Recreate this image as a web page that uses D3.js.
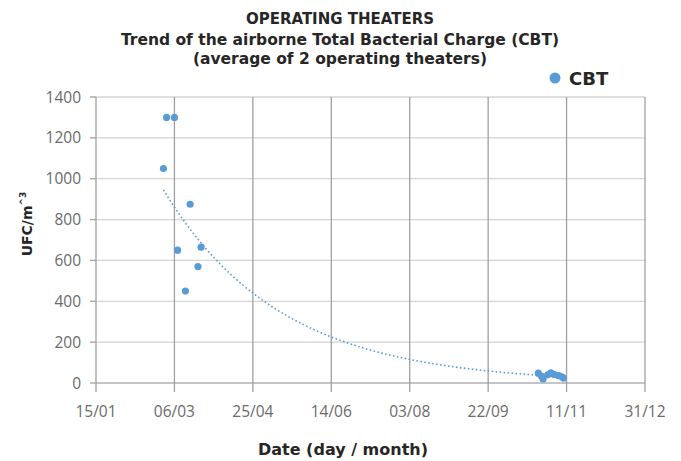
<!DOCTYPE html>
<html>
<head>
<meta charset="utf-8">
<script src="https://cdn.jsdelivr.net/npm/d3@7"></script>
<style>
  html, body { margin: 0; padding: 0; background: #fff; }
  svg { display: block; font-family: "Open Sans", "Lato", sans-serif; }
  .bold { font-family: "DejaVu Sans", "Open Sans", sans-serif; font-weight: bold; }
</style>
</head>
<body>
<svg id="chart" width="681" height="461"></svg>
<script>
// ---- data ----
const sampleDates = [
  "2021-02-27", "2021-03-01", "2021-03-06", "2021-03-08", "2021-03-13",
  "2021-03-16", "2021-03-21", "2021-03-23",
  "2021-10-24", "2021-10-26", "2021-10-27", "2021-10-30", "2021-11-01",
  "2021-11-03", "2021-11-06", "2021-11-08", "2021-11-09"
];
const cbtValues = [
  1050, 1300, 1300, 650, 450,
  875, 570, 665,
  48, 34, 20, 40, 50,
  42, 36, 30, 24
];
const xTickDates = ["2021-01-15", "2021-03-06", "2021-04-25", "2021-06-14", "2021-08-03", "2021-09-22", "2021-11-11", "2021-12-31"];
const xTickLabels = ["15/01", "06/03", "25/04", "14/06", "03/08", "22/09", "11/11", "31/12"];
const yTicks = [0, 200, 400, 600, 800, 1000, 1200, 1400];
const titleLines = ["OPERATING THEATERS", "Trend of the airborne Total Bacterial Charge (CBT)", "(average of 2 operating theaters)"];
const seriesName = "CBT";

(function () {
const parse = d3.utcParse("%Y-%m-%d");
const points = sampleDates.map((d, i) => ({ date: parse(d), value: cbtValues[i] }));
const tickDates = xTickDates.map(parse);

const svg = d3.select("#chart");
const pLeft = 96, pRight = 645, pTop = 97, pBottom = 383;
const blue = "#5B9BD5";

const x = d3.scaleUtc().domain([tickDates[0], tickDates[tickDates.length - 1]]).range([pLeft, pRight]);
const y = d3.scaleLinear().domain([0, 1400]).range([pBottom, pTop]);

// horizontal gridlines
svg.append("g").selectAll("line").data(yTicks).join("line")
  .attr("x1", pLeft).attr("x2", pRight)
  .attr("y1", d => y(d)).attr("y2", d => y(d))
  .attr("stroke", d => d === 0 ? "#c4c4c4" : "#d4d4d4")
  .attr("stroke-width", d => d === 0 ? 2 : 1.3);

// vertical gridlines (with ticks below the axis)
svg.append("g").selectAll("line").data(tickDates).join("line")
  .attr("x1", d => x(d)).attr("x2", d => x(d))
  .attr("y1", pTop).attr("y2", pBottom + 9)
  .attr("stroke", "#a0a0a0").attr("stroke-width", 1.3);

// y ticks
svg.append("g").selectAll("line").data(yTicks).join("line")
  .attr("x1", pLeft - 6).attr("x2", pLeft)
  .attr("y1", d => y(d)).attr("y2", d => y(d))
  .attr("stroke", "#a0a0a0").attr("stroke-width", 1.3);

// y tick labels
svg.append("g").selectAll("text").data(yTicks).join("text")
  .attr("x", 81).attr("y", d => y(d) + 5.5)
  .attr("text-anchor", "end")
  .attr("fill", "#6b6b6b").attr("font-size", 15.5)
  .text(d => d);

// x tick labels
svg.append("g").selectAll("text").data(tickDates).join("text")
  .attr("x", d => x(d)).attr("y", 417)
  .attr("text-anchor", "middle")
  .attr("fill", "#6b6b6b").attr("font-size", 15.5)
  .text((d, i) => xTickLabels[i]);

// exponential trendline (least squares on ln(value))
const t0 = tickDates[0].getTime();
const dayOf = d => (d.getTime() - t0) / 864e5;
const xs = points.map(p => dayOf(p.date)), ls = points.map(p => Math.log(p.value));
const mx = d3.mean(xs), ml = d3.mean(ls);
const b = d3.sum(xs, (v, i) => (v - mx) * (ls[i] - ml)) / d3.sum(xs, v => (v - mx) ** 2);
const a = ml - b * mx;
const [dmin, dmax] = d3.extent(xs);
const trend = d3.range(0, 101).map(k => {
  const dd = dmin + (dmax - dmin) * k / 100;
  return { date: new Date(t0 + dd * 864e5), value: Math.exp(a + b * dd) };
});
svg.append("path").datum(trend)
  .attr("d", d3.line().x(d => x(d.date)).y(d => y(d.value)))
  .attr("fill", "none").attr("stroke", blue)
  .attr("stroke-width", 1.6).attr("stroke-dasharray", "1.6,2.4");

// points
svg.append("g").selectAll("circle").data(points).join("circle")
  .attr("cx", d => x(d.date)).attr("cy", d => y(d.value))
  .attr("r", 3.6).attr("fill", blue);

// title
svg.append("g").selectAll("text").data(titleLines).join("text")
  .attr("class", "bold")
  .attr("x", 340).attr("y", (d, i) => [24, 44.5, 64][i])
  .attr("text-anchor", "middle")
  .attr("font-size", (d, i) => i === 0 ? 15 : 15.5).attr("fill", "#262626")
  .text(d => d);

// legend
svg.append("circle").attr("cx", 555).attr("cy", 78).attr("r", 5.5).attr("fill", blue);
svg.append("text").attr("class", "bold").attr("x", 569).attr("y", 85)
  .attr("font-size", 18).attr("fill", "#262626")
  .text(seriesName);

// axis titles
svg.append("text").attr("class", "bold").attr("x", 343).attr("y", 455)
  .attr("text-anchor", "middle")
  .attr("font-size", 16).attr("fill", "#262626")
  .text("Date (day / month)");

const yl = svg.append("text").attr("class", "bold")
  .attr("transform", "translate(32,224) rotate(-90)")
  .attr("text-anchor", "middle")
  .attr("font-size", 14).attr("fill", "#262626");
yl.append("tspan").text("UFC/m");
yl.append("tspan").attr("font-size", 9).attr("dy", -6).text("^3");
})();
</script>
</body>
</html>
